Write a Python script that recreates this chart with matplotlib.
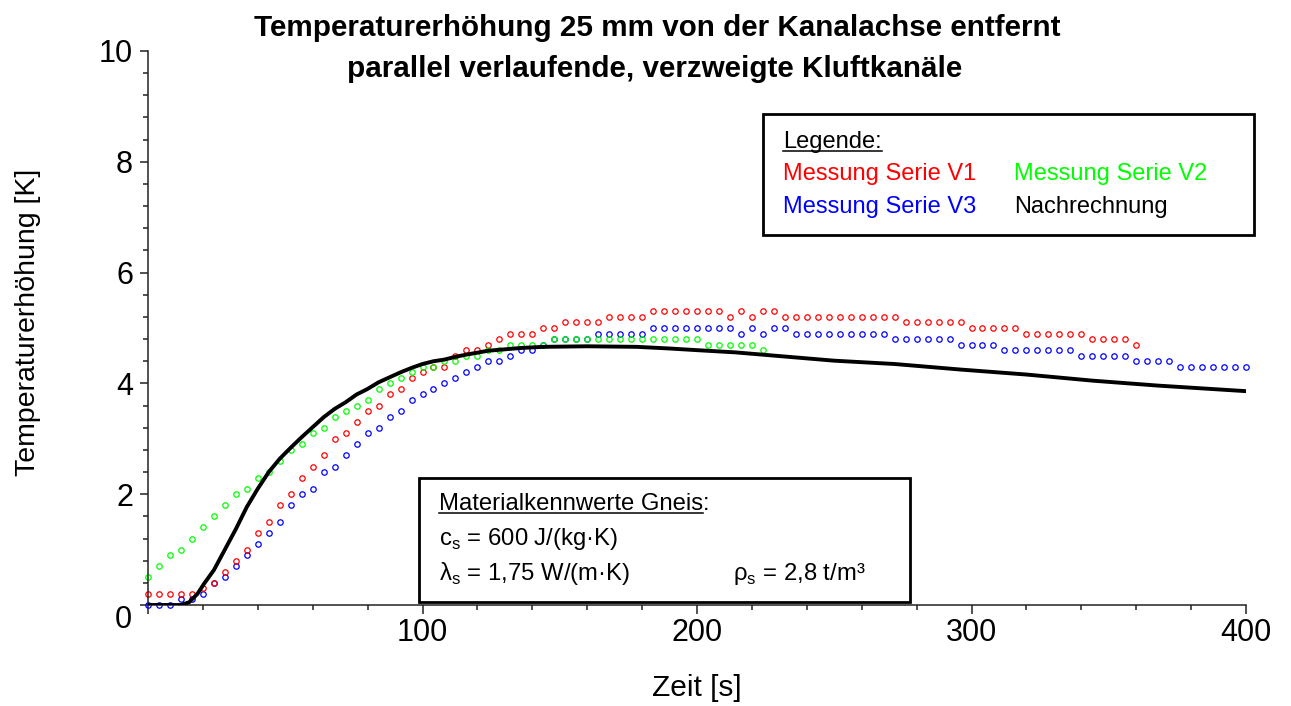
import numpy as np
import matplotlib
matplotlib.use("Agg")
import matplotlib.pyplot as plt
from matplotlib.patches import Rectangle
from matplotlib.lines import Line2D

plt.rcParams['font.family'] = ['Liberation Sans', 'DejaVu Sans']

t_v1 = np.arange(0, 361, 4)
v1 = [0.2, 0.2, 0.2, 0.2, 0.2, 0.3, 0.4, 0.6, 0.8, 1.0,
      1.3, 1.5, 1.8, 2.0, 2.3, 2.5, 2.7, 3.0, 3.1, 3.3,
      3.5, 3.6, 3.8, 3.9, 4.1, 4.2, 4.3, 4.3, 4.5, 4.6,
      4.6, 4.7, 4.8, 4.9, 4.9, 4.9, 5.0, 5.0, 5.1, 5.1,
      5.1, 5.1, 5.2, 5.2, 5.2, 5.2, 5.3, 5.3, 5.3, 5.3,
      5.3, 5.3, 5.3, 5.2, 5.3, 5.2, 5.3, 5.3, 5.2, 5.2,
      5.2, 5.2, 5.2, 5.2, 5.2, 5.2, 5.2, 5.2, 5.2, 5.1,
      5.1, 5.1, 5.1, 5.1, 5.1, 5.0, 5.0, 5.0, 5.0, 5.0,
      4.9, 4.9, 4.9, 4.9, 4.9, 4.9, 4.8, 4.8, 4.8, 4.8,
      4.7]

t_v2 = np.arange(0, 225, 4)
v2 = [0.5, 0.7, 0.9, 1.0, 1.2, 1.4, 1.6, 1.8, 2.0, 2.1,
      2.3, 2.4, 2.6, 2.8, 2.9, 3.1, 3.2, 3.4, 3.5, 3.6,
      3.7, 3.9, 4.0, 4.1, 4.2, 4.3, 4.3, 4.4, 4.4, 4.5,
      4.5, 4.6, 4.6, 4.7, 4.7, 4.7, 4.7, 4.8, 4.8, 4.8,
      4.8, 4.8, 4.8, 4.8, 4.8, 4.8, 4.8, 4.8, 4.8, 4.8,
      4.8, 4.7, 4.7, 4.7, 4.7, 4.7, 4.6]

t_v3 = np.arange(0, 401, 4)
v3 = [0.0, 0.0, 0.0, 0.1, 0.1, 0.2, 0.4, 0.5, 0.7, 0.9,
      1.1, 1.3, 1.5, 1.8, 2.0, 2.1, 2.4, 2.5, 2.7, 2.9,
      3.1, 3.2, 3.4, 3.5, 3.7, 3.8, 3.9, 4.0, 4.1, 4.2,
      4.3, 4.4, 4.4, 4.5, 4.6, 4.6, 4.7, 4.8, 4.8, 4.8,
      4.8, 4.9, 4.9, 4.9, 4.9, 4.9, 5.0, 5.0, 5.0, 5.0,
      5.0, 5.0, 5.0, 5.0, 4.9, 5.0, 4.9, 5.0, 5.0, 4.9,
      4.9, 4.9, 4.9, 4.9, 4.9, 4.9, 4.9, 4.9, 4.8, 4.8,
      4.8, 4.8, 4.8, 4.8, 4.7, 4.7, 4.7, 4.7, 4.6, 4.6,
      4.6, 4.6, 4.6, 4.6, 4.6, 4.5, 4.5, 4.5, 4.5, 4.5,
      4.4, 4.4, 4.4, 4.4, 4.3, 4.3, 4.3, 4.3, 4.3, 4.3,
      4.3]

# Nachrechnung
t_calc = [0, 12, 15, 18, 20.5, 24, 28, 32, 36, 40, 44, 48, 52, 56, 60, 64,
          68, 72, 76, 80, 84, 88, 92, 96, 100, 104, 108, 112, 116, 124, 136,
          144, 160, 178, 190, 200, 214, 226, 238, 250, 272, 296, 320, 344,
          368, 400]
y_calc = [0.0, 0.0, 0.05, 0.2, 0.39, 0.63, 1.0, 1.37, 1.77, 2.1, 2.4, 2.64,
          2.84, 3.03, 3.21, 3.39, 3.54, 3.66, 3.8, 3.9, 4.02, 4.11, 4.2, 4.28,
          4.35, 4.4, 4.43, 4.48, 4.52, 4.59, 4.64, 4.66, 4.67, 4.66, 4.63,
          4.6, 4.56, 4.51, 4.46, 4.41, 4.35, 4.25, 4.16, 4.05, 3.96, 3.86]

W, H = 1291, 706
fig = plt.figure(figsize=(W / 100, H / 100), dpi=100)
ax = fig.add_axes([148 / W, (H - 605) / H, 1098 / W, 554 / H])

mk = dict(ls='none', marker='o', ms=3.9, mew=0.9, mfc='none', clip_on=False)
ax.plot(t_v3, v3, mec='#0000ff', zorder=2, **mk)
ax.plot(t_v1, v1, mec='#ff0000', zorder=2, **mk)
ax.plot(t_v2, v2, mec='#00ff00', zorder=2, **mk)
ax.plot(t_calc, y_calc, color='black', lw=2.8, zorder=3)

ax.set_xlim(0, 400)
ax.set_ylim(0, 10)
for s in ['top', 'right']:
    ax.spines[s].set_visible(False)
for s in ['left', 'bottom']:
    ax.spines[s].set_linewidth(1.1)
    ax.spines[s].set_color('#222222')

ax.set_xticks([0, 100, 200, 300, 400])
ax.set_xticklabels(['', '100', '200', '300', '400'])
ax.set_xticks(np.arange(0, 401, 20), minor=True)
ax.set_yticks([0, 2, 4, 6, 8, 10])
ax.set_yticklabels(['', '2', '4', '6', '8', '10'])
ax.set_yticks(np.arange(0, 10.01, 0.4), minor=True)
ax.tick_params(which='major', direction='out', width=1.1, labelsize=22, color='#222222')
ax.tick_params(axis='x', which='major', length=6.5, pad=3)
ax.tick_params(axis='y', which='major', length=5.8, pad=5)
ax.tick_params(which='minor', direction='out', length=3.5, width=1.1, color='#222222')
fig.text(132 / W, 1 - 620 / H, '0', ha='right', va='center', fontsize=22)

fig.text(697 / W, 1 - 688 / H, 'Zeit [s]', ha='center', va='center', fontsize=21.5)
fig.text(28 / W, 1 - 322 / H, 'Temperaturerhöhung [K]', rotation=90,
         ha='center', va='center', fontsize=20.5)

narrow = ['Liberation Sans Narrow', 'Liberation Sans', 'DejaVu Sans']
fig.text(657 / W, 1 - 36 / H, 'Temperaturerhöhung 25 mm von der Kanalachse entfernt',
         ha='center', va='baseline', fontsize=21.3, fontweight='bold', family=narrow)
fig.text(655 / W, 1 - 77 / H, 'parallel verlaufende, verzweigte Kluftkanäle',
         ha='center', va='baseline', fontsize=21.3, fontweight='bold', family=narrow)

# Legende
fig.add_artist(Rectangle((763 / W, 1 - 235 / H), 491 / W, 121 / H, transform=fig.transFigure,
                         facecolor='white', edgecolor='black', lw=2, zorder=5))
t_leg = fig.text(783 / W, 1 - 148 / H, 'Legende:', va='baseline', fontsize=17, zorder=6)
fig.text(783 / W, 1 - 180 / H, 'Messung Serie V1', va='baseline', fontsize=17, color='#ff0000', zorder=6)
fig.text(1014 / W, 1 - 180 / H, 'Messung Serie V2', va='baseline', fontsize=17, color='#00ff00', zorder=6)
fig.text(783 / W, 1 - 213 / H, 'Messung Serie V3', va='baseline', fontsize=17, color='#0000ff', zorder=6)
fig.text(1014 / W, 1 - 213 / H, 'Nachrechnung', va='baseline', fontsize=17, color='black', zorder=6)

# Materialkennwerte
fig.add_artist(Rectangle((419 / W, 1 - 602 / H), 491 / W, 124 / H, transform=fig.transFigure,
                         facecolor='white', edgecolor='black', lw=2, zorder=5))
t_mat = fig.text(439 / W, 1 - 510 / H, 'Materialkennwerte Gneis', va='baseline', fontsize=17.2, zorder=6)
fig.text(439 / W, 1 - 545 / H, r'c$_\mathregular{s}$ = 600 J/(kg·K)', va='baseline', fontsize=17.2, zorder=6)
fig.text(439 / W, 1 - 580 / H, r'λ$_\mathregular{s}$ = 1,75 W/(m·K)', va='baseline', fontsize=17.2, zorder=6)
fig.text(733 / W, 1 - 580 / H, r'ρ$_\mathregular{s}$ = 2,8 t/m³', va='baseline', fontsize=17.2, zorder=6)

fig.canvas.draw()
r = fig.canvas.get_renderer()
bb = t_mat.get_window_extent(r)
fig.text(bb.x1 / W, 1 - 510 / H, ':', va='baseline', fontsize=17.2, zorder=6)
for t, base in [(t_leg, 148), (t_mat, 510)]:
    b = t.get_window_extent(r)
    fig.add_artist(Line2D([b.x0 / W, b.x1 / W], [1 - (base + 3) / H] * 2,
                          transform=fig.transFigure, color='black', lw=1.1, zorder=6))

fig.savefig('out.png', dpi=100)
